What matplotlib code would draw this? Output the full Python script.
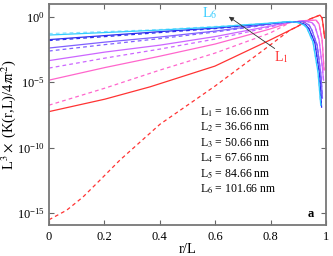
import numpy as np
import matplotlib
matplotlib.use('Agg')
import matplotlib.pyplot as plt

plt.rcParams['font.family'] = ['Liberation Serif', 'DejaVu Serif']
plt.rcParams['mathtext.fontset'] = 'stix'

# values: r/L and log10 of the y quantity
x_left = [0.0, 0.202, 0.401, 0.599, 0.798]

cyan_solid = [-1.41, -1.22, -1.03, -0.80, -0.50]
cyan_dash = [-1.30, -1.15, -0.99, -0.76, -0.50]
blue_solid = [-1.76, -1.45, -1.15, -0.88, -0.53]
blue_dash = [-1.83, -1.53, -1.22, -0.92, -0.53]
purple_solid = [-2.40, -1.95, -1.56, -1.11, -0.57]
purple_dash = [-2.63, -2.14, -1.68, -1.18, -0.61]
violet_solid = [-3.36, -2.71, -2.18, -1.53, -0.73]
violet_dash = [-3.93, -3.17, -2.48, -1.72, -0.80]
pink_solid = [-4.85, -3.89, -3.02, -2.10, -0.95]
pink_dash = [-6.76, -5.46, -4.08, -2.79, -1.26]

x_red = [0.0, 0.202, 0.365, 0.599, 0.798]
red_solid = [-7.25, -6.30, -5.36, -3.78, -1.79]
x_red_dash = [0.0, 0.064, 0.123, 0.184, 0.256, 0.401, 0.599, 0.798, 0.870]
red_dash = [-15.50, -14.77, -13.76, -12.48, -10.95, -8.21, -5.31, -2.18, -1.03]

# right-hand tails (peak and drop), shared by solid and dashed of a colour
cyan_tx = [0.870, 0.899, 0.921, 0.931, 0.953, 0.971, 0.981]
cyan_ty = [-0.38, -0.46, -0.65, -0.88, -1.95, -4.24, -6.76]
blue_tx = [0.870, 0.906, 0.928, 0.939, 0.960, 0.977, 0.984]
blue_ty = [-0.40, -0.46, -0.65, -0.95, -2.02, -4.47, -6.91]
purple_tx = [0.870, 0.917, 0.939, 0.949, 0.968, 0.982, 0.987]
purple_ty = [-0.40, -0.38, -0.65, -1.03, -2.18, -4.47, -6.22]
violet_tx = [0.870, 0.924, 0.949, 0.960, 0.975, 0.986, 0.991]
violet_ty = [-0.42, -0.34, -0.46, -0.73, -1.79, -3.70, -4.85]
pink_tx = [0.870, 0.924, 0.964, 0.975, 0.986, 0.993]
pink_ty = [-0.46, -0.31, -0.27, -0.57, -1.79, -4.08]
red_tx = [0.895, 0.942, 0.978, 0.986, 0.991, 0.995]
red_ty = [-0.78, -0.19, 0.11, -0.11, -0.88, -1.64]

labels = ['L$_1$ = 16.66 nm', 'L$_2$ = 36.66 nm', 'L$_3$ = 50.66 nm',
          'L$_4$ = 67.66 nm', 'L$_5$ = 84.66 nm', 'L$_6$ = 101.66 nm']

c_cyan = '#33ccff'
c_blue = '#2f2fee'
c_purple = '#8060ff'
c_violet = '#cc66ff'
c_pink = '#ff66cc'
c_red = '#ff3333'

fig = plt.figure(figsize=(3.33, 2.56), dpi=100)
ax = fig.add_axes([0.147, 0.121, 0.832, 0.863])

def draw(xl, yl, xt, yt, c, ls):
    xs = list(xl) + list(xt)
    ys = list(yl) + list(yt)
    ax.plot(xs, 10.0 ** np.array(ys), color=c, ls=ls, lw=0.9,
            dashes=(3, 2.5) if ls == '--' else (None, None))

draw(x_red_dash, red_dash, red_tx, red_ty, c_red, '--')
draw(x_red, red_solid, red_tx, red_ty, c_red, '-')
draw(x_left, pink_dash, pink_tx, pink_ty, c_pink, '--')
draw(x_left, pink_solid, pink_tx, pink_ty, c_pink, '-')
draw(x_left, violet_dash, violet_tx, violet_ty, c_violet, '--')
draw(x_left, violet_solid, violet_tx, violet_ty, c_violet, '-')
draw(x_left, purple_dash, purple_tx, purple_ty, c_purple, '--')
draw(x_left, purple_solid, purple_tx, purple_ty, c_purple, '-')
draw(x_left, blue_dash, blue_tx, blue_ty, c_blue, '--')
draw(x_left, blue_solid, blue_tx, blue_ty, c_blue, '-')
draw(x_left, cyan_dash, cyan_tx, cyan_ty, '#88e4ff', '--')
draw(x_left, cyan_solid, cyan_tx, cyan_ty, c_cyan, '-')

ax.set_yscale('log')
ax.set_xlim(0, 1)
ax.set_ylim(10 ** -15.9, 10 ** 0.95)
ax.set_yticks([1e-15, 1e-10, 1e-5, 1e0])
ax.minorticks_off()
ax.set_xticks([0, 0.2, 0.4, 0.6, 0.8, 1])
ax.set_xticklabels(['0', '0.2', '0.4', '0.6', '0.8', '1'])
ax.tick_params(direction='in', top=True, right=True, length=3.5,
               width=0.8, color='#666666', labelsize=9, pad=4)
ax.tick_params(axis='y', pad=3)
for s in ax.spines.values():
    s.set_color('#777777')
    s.set_linewidth(1.3)

ax.set_xlabel('r/L', fontsize=10.5, labelpad=0)
ax.set_ylabel(r'L$^3\times$ (K(r,L)/4$\pi$r$^2$)', fontsize=10.5)
ax.yaxis.set_label_coords(-0.11, 0.5)

for i, t in enumerate(labels):
    ax.text(0.545, 0.511 - 0.07 * i, t, transform=ax.transAxes,
            fontsize=8.5, va='center', ha='left')

ax.text(0.955, 0.025, 'a', transform=ax.transAxes, fontsize=9,
        fontweight='bold', ha='right', va='bottom')

ax.text(0.58, 10 ** 0.3, 'L$_6$', color=c_cyan, fontsize=10,
        ha='center', va='center')
ax.text(0.84, 10 ** -3.1, 'L$_1$', color=c_red, fontsize=10,
        ha='center', va='center')
ax.annotate('', xy=(0.641, 10 ** 0.11), xytext=(0.823, 10 ** -2.56),
            arrowprops=dict(arrowstyle='-|>', color='#333333', lw=0.6,
                            mutation_scale=7))

fig.savefig('out.png', dpi=100)
